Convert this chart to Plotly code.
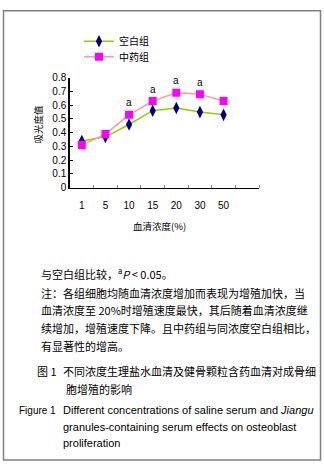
import plotly.graph_objects as go

W, H = 324, 470

# ---- data ----
categories = ["1", "5", "10", "15", "20", "30", "50"]
blank_group = [0.34, 0.37, 0.46, 0.56, 0.58, 0.55, 0.53]
herbal_group = [0.31, 0.39, 0.53, 0.63, 0.69, 0.68, 0.63]
significance = ["", "", "a", "a", "a", "a", ""]
series_names = ["空白组", "中药组"]
y_ticks = [0, 0.1, 0.2, 0.3, 0.4, 0.5, 0.6, 0.7, 0.8]
y_title = "吸光度值"
x_title = "血清浓度(%)"
note_first = "与空白组比较，<sup>a</sup><i>P</i> &lt; 0.05。"
note_lines = [
    "注：各组细胞均随血清浓度增加而表现为增殖加快，当",
    "血清浓度至 20%时增殖速度最快，其后随着血清浓度继",
    "续增加，增殖速度下降。且中药组与同浓度空白组相比，",
    "有显著性的增高。",
]
cap_cn_label = "图 1"
cap_cn_lines = ["不同浓度生理盐水血清及健骨颗粒含药血清对成骨细", "胞增殖的影响"]
cap_en_label = "Figure 1"
cap_en_lines = [
    "Different concentrations of saline serum and <i>Jiangu</i>",
    "granules-containing serum effects on osteoblast",
    "proliferation",
]

xs = list(range(len(categories)))

def px(x):
    return x / W

def py(y):
    return 1 - y / H

CJK = "Noto Sans CJK SC, sans-serif"
LAT = "Liberation Sans, Arial, sans-serif"

fig = go.Figure()
fig.add_trace(go.Scatter(
    x=xs, y=blank_group, name=series_names[0], mode="lines+markers",
    line=dict(color="#99CC00", width=1.5),
    marker=dict(symbol="diamond-tall", size=9, color="#000080"),
    legend="legend",
))
fig.add_trace(go.Scatter(
    x=xs, y=herbal_group, name=series_names[1], mode="lines+markers",
    line=dict(color="#FF9999", width=1.5),
    marker=dict(symbol="square", size=8, color="#FF00FF"),
    legend="legend2",
))

def txt(x, y, text, size, family=CJK, xanchor="left", **kw):
    return dict(x=px(x), y=py(y), xref="paper", yref="paper", text=text, showarrow=False,
                xanchor=xanchor, yanchor="middle", font=dict(family=family, size=size, color="black"), **kw)

annotations = []
for xi, yv, s in zip(xs, herbal_group, significance):
    if s:
        annotations.append(dict(x=xi, y=yv, xref="x", yref="y", text=s, showarrow=False,
                                xanchor="center", yanchor="middle",
                                yshift=12, font=dict(family=LAT, size=10, color="black")))

annotations.append(txt(38, 122, y_title, 9.5, xanchor="center", textangle=-90))
annotations.append(txt(159, 226, x_title, 9.5, xanchor="center"))

annotations.append(txt(39, 274, note_first, 11))
for i, t in enumerate(note_lines):
    annotations.append(txt(39, 294 + 18 * i, t, 11))

annotations.append(txt(35, 374, cap_cn_label, 11))
for i, t in enumerate(cap_cn_lines):
    annotations.append(txt(61 if i == 0 else 64, 374 + 18 * i, t, 11))

annotations.append(txt(17, 414, cap_en_label, 10, family=LAT))
for i, t in enumerate(cap_en_lines):
    annotations.append(txt(61, 414 + 17 * i, t, 11, family=LAT))

fig.update_layout(
    width=W, height=H, margin=dict(l=0, r=0, t=0, b=0),
    paper_bgcolor="white", plot_bgcolor="white",
    showlegend=True,
    legend=dict(x=px(79), y=py(37), xanchor="left", yanchor="middle", bgcolor="rgba(0,0,0,0)",
                font=dict(family=CJK, size=10, color="black")),
    legend2=dict(x=px(79), y=py(53), xanchor="left", yanchor="middle", bgcolor="rgba(0,0,0,0)",
                 font=dict(family=CJK, size=10, color="black")),
    xaxis=dict(
        domain=[px(70), px(259)], range=[-0.5, 7.5],
        tickmode="array", tickvals=xs, ticktext=categories, ticks="",
        ticklabelstandoff=8,
        showline=True, linecolor="black", linewidth=1.2, showgrid=False, zeroline=False,
        tickfont=dict(family=LAT, size=10, color="black"),
        minor=dict(tickmode="array", tickvals=[i + 0.5 for i in range(8)], ticks="inside",
                   ticklen=3, tickcolor="#888888", tickwidth=1, showgrid=False),
    ),
    yaxis=dict(
        domain=[py(186.7), py(74.3)], range=[0, 0.8],
        tickmode="array", tickvals=y_ticks, ticktext=[f"{v:g}" for v in y_ticks],
        ticks="inside", ticklen=3, tickcolor="black",
        showline=True, linecolor="black", linewidth=1.5, showgrid=False, zeroline=False,
        tickfont=dict(family=LAT, size=10, color="black"),
    ),
    annotations=annotations,
    shapes=[dict(type="rect", xref="paper", yref="paper", x0=px(3.5), x1=px(320.5), y0=py(465), y1=py(6),
                 line=dict(color="#808080", width=1.5))],
)

fig.write_html("out.html")
